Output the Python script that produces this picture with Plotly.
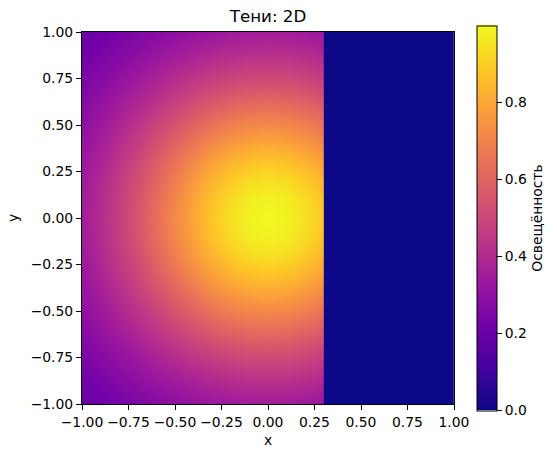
import plotly.graph_objects as go

# Column positions (x) of the lit region and row positions (y)
x_lit = [-1.0, -0.9, -0.8, -0.7, -0.6, -0.5, -0.4, -0.3, -0.2, -0.1, 0.0, 0.1, 0.2, 0.3]
y_upper = [0.0, 0.1, 0.2, 0.3, 0.4, 0.5, 0.6, 0.7, 0.8, 0.9, 1.0]

# Illumination, rows y = 0.0 ... 1.0 (symmetric in y)
row_y00 = [0.354, 0.411, 0.476, 0.550, 0.631, 0.716, 0.800, 0.879, 0.943, 0.985, 1.000, 0.985, 0.943, 0.879]
row_y01 = [0.351, 0.407, 0.472, 0.544, 0.624, 0.707, 0.790, 0.867, 0.929, 0.971, 0.985, 0.971, 0.929, 0.867]
row_y02 = [0.343, 0.397, 0.459, 0.528, 0.604, 0.683, 0.761, 0.833, 0.891, 0.929, 0.943, 0.929, 0.891, 0.833]
row_y03 = [0.331, 0.382, 0.439, 0.504, 0.573, 0.645, 0.716, 0.780, 0.833, 0.867, 0.879, 0.867, 0.833, 0.780]
row_y04 = [0.315, 0.362, 0.414, 0.472, 0.534, 0.597, 0.659, 0.716, 0.761, 0.790, 0.800, 0.790, 0.761, 0.716]
row_y05 = [0.296, 0.338, 0.385, 0.436, 0.490, 0.544, 0.597, 0.645, 0.683, 0.707, 0.716, 0.707, 0.683, 0.645]
row_y06 = [0.276, 0.313, 0.354, 0.397, 0.443, 0.490, 0.534, 0.573, 0.604, 0.624, 0.631, 0.624, 0.604, 0.573]
row_y07 = [0.255, 0.287, 0.322, 0.359, 0.397, 0.436, 0.472, 0.504, 0.528, 0.544, 0.550, 0.544, 0.528, 0.504]
row_y08 = [0.233, 0.261, 0.290, 0.322, 0.354, 0.385, 0.414, 0.439, 0.459, 0.472, 0.476, 0.472, 0.459, 0.439]
row_y09 = [0.212, 0.236, 0.261, 0.287, 0.313, 0.338, 0.362, 0.382, 0.397, 0.407, 0.411, 0.407, 0.397, 0.382]
row_y10 = [0.192, 0.212, 0.233, 0.255, 0.276, 0.296, 0.315, 0.331, 0.343, 0.351, 0.354, 0.351, 0.343, 0.331]

upper_rows = [row_y00, row_y01, row_y02, row_y03, row_y04, row_y05,
              row_y06, row_y07, row_y08, row_y09, row_y10]

# Shadowed region (x > 0.3): zero illumination
shadow_x_edges = [0.3, 1.0]
shadow_y_edges = [-1.0, 1.0]
shadow_value = [[0.0]]

tick_vals = [-1.0, -0.75, -0.5, -0.25, 0.0, 0.25, 0.5, 0.75, 1.0]
tick_text = ["\u22121.00", "\u22120.75", "\u22120.50", "\u22120.25", "0.00", "0.25", "0.50", "0.75", "1.00"]
cb_vals = [0.0, 0.2, 0.4, 0.6, 0.8]
cb_text = ["0.0", "0.2", "0.4", "0.6", "0.8"]

# full grid y = -1 ... 1
y_full = [-v for v in y_upper[::-1]] + y_upper[1:]
z_full = upper_rows[::-1] + upper_rows[1:]

FONT = "DejaVu Sans"
fs = 13.9

fig = go.Figure()
fig.add_trace(go.Heatmap(x=x_lit, y=y_full, z=z_full, coloraxis="coloraxis",
                         zsmooth="best", hoverinfo="skip"))
fig.add_trace(go.Heatmap(x=shadow_x_edges, y=shadow_y_edges, z=shadow_value,
                         coloraxis="coloraxis", hoverinfo="skip"))

axis_common = dict(
    showline=True, linecolor="black", linewidth=1, mirror=True,
    ticks="outside", ticklen=5, tickwidth=1, tickcolor="black",
    showgrid=False, zeroline=False, tickvals=tick_vals, ticktext=tick_text,
    tickfont=dict(family=FONT, size=fs, color="black"),
    range=[-1, 1], fixedrange=True,
)

fig.update_layout(
    width=557, height=457,
    margin=dict(l=82, r=103, t=32, b=53, autoexpand=False),
    paper_bgcolor="white", plot_bgcolor="white",
    font=dict(family=FONT, size=fs, color="black"),
    title=dict(text="Тени: 2D", x=0.5, xref="paper", xanchor="center",
               y=1, yref="paper", yanchor="bottom", pad=dict(b=10),
               font=dict(family=FONT, size=16.7, color="black")),
    xaxis=dict(**axis_common, title=dict(text="x", standoff=6,
               font=dict(family=FONT, size=fs))),
    yaxis=dict(**axis_common, title=dict(text="y", standoff=8,
               font=dict(family=FONT, size=fs))),
    coloraxis=dict(
        colorscale="Plasma", cmin=0.0, cmax=1.0,
        colorbar=dict(
            thickness=20, thicknessmode="pixels",
            len=385, lenmode="pixels",
            x=(477 - 82) / 372, xanchor="left", xpad=0,
            y=0.5, yanchor="middle", ypad=0,
            outlinewidth=1, outlinecolor="black",
            ticks="outside", ticklen=5, tickwidth=1, tickcolor="black",
            tickvals=cb_vals, ticktext=cb_text,
            tickfont=dict(family=FONT, size=fs, color="black"),
            title=dict(text="Освещённость", side="right",
                       font=dict(family=FONT, size=fs, color="black")),
        ),
    ),
)

fig.write_html("out.html",
               config={"displayModeBar": False, "staticPlot": True},
               post_script="document.body.style.margin='0';document.body.style.overflow='hidden';")
